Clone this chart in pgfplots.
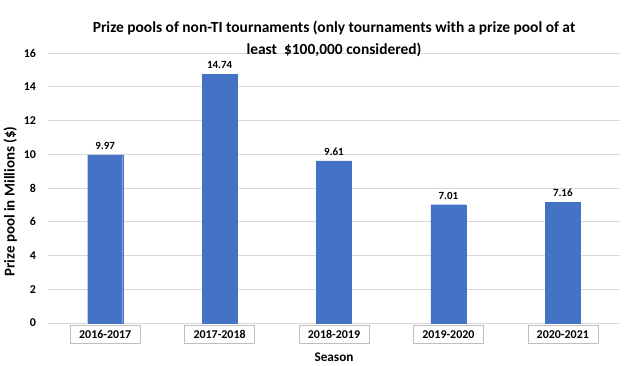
\documentclass[border=0pt]{standalone}
\usepackage{pgfplots}
\pgfplotsset{compat=1.18}
\usepackage{fontspec}
\setmainfont{Carlito}
\definecolor{barblue}{HTML}{4472C4}
\definecolor{gridgray}{HTML}{D9D9D9}
\definecolor{boxgray}{HTML}{BFBFBF}
\begin{document}
\begin{tikzpicture}
\begin{axis}[
  at={(0,0)}, anchor=south west,
  scale only axis, width=572bp, height=270bp,
  ymin=0, ymax=16, ytick={0,2,...,16},
  xmin=-0.5, xmax=4.5, xtick=data,
  xticklabels={2016-2017,2017-2018,2018-2019,2019-2020,2020-2021},
  axis line style={draw=none},
  major tick length=0pt,
  ymajorgrids, grid style={gridgray, line width=0.8bp},
  /pgf/number format/assume math mode=true,
  tick label style={font=\bfseries\fontsize{12}{14}\selectfont},
  yticklabel style={xshift=-8.5bp},
  xticklabel style={draw=boxgray, fill=white, inner xsep=9bp, inner ysep=5bp,
    text height=8bp, text depth=0bp, yshift=-2bp},
  title={Prize pools of non-TI tournaments (only tournaments with a prize pool of at\\least \ \$100,000 considered)},
  title style={font=\bfseries\fontsize{15.5}{22}\selectfont, align=center, yshift=-13bp},
  ylabel={Prize pool in Millions (\$)},
  ylabel style={font=\bfseries\fontsize{15}{17}\selectfont, at={(axis description cs:-0.066,0.45)}, anchor=center},
  xlabel={Season},
  xlabel style={font=\bfseries\fontsize{13.3}{15}\selectfont, at={(axis description cs:0.5,0)}, anchor=center, yshift=-34bp},
  clip=false,
]
\addplot[ybar, bar width=35bp, fill=barblue, draw=barblue,
  nodes near coords, point meta=explicit symbolic,
  every node near coord/.append style={font=\bfseries\fontsize{11}{13}\selectfont, black, yshift=2bp}]
  coordinates {(0,9.97)[9.97] (1,14.74)[14.74] (2,9.61)[9.61] (3,7.01)[7.01] (4,7.16)[7.16]};
\end{axis}
\pgfresetboundingbox
\path (-48bp,-43bp) rectangle (576bp,323bp);
\end{tikzpicture}
\end{document}
